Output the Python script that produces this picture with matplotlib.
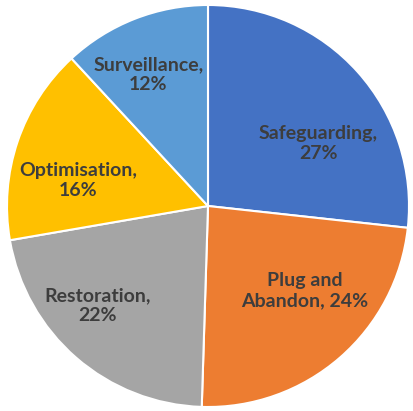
import numpy as np
import matplotlib
matplotlib.use('Agg')
import matplotlib.pyplot as plt

labels = ['Safeguarding,', 'Plug and', 'Restoration,', 'Optimisation,', 'Surveillance,']
second_lines = ['27%', 'Abandon, 24%', '22%', '16%', '12%']
values = [27, 24, 22, 16, 12]
colors = ['#4472C4', '#ED7D31', '#A5A5A5', '#FFC000', '#5B9BD5']

# label placement (radius fraction, angle nudge in degrees) per wedge
label_r = [0.63, 0.64, 0.74, 0.66, 0.72]
label_nudge = [-12.5, 8, -7, 7.5, 3]

fig = plt.figure(figsize=(4.14, 4.11), dpi=100)
ax = fig.add_axes([0, 0, 1, 1])

wedges, _ = ax.pie(values, colors=colors, startangle=90, counterclock=False,
                   radius=1, wedgeprops=dict(edgecolor='white', linewidth=1.5))

for w, l1, l2, r, nudge in zip(wedges, labels, second_lines, label_r, label_nudge):
    ang = np.deg2rad((w.theta1 + w.theta2) / 2 + nudge)
    ax.text(r * np.cos(ang), r * np.sin(ang), l1 + '\n' + l2,
            ha='center', va='center', fontsize=14, fontweight='bold',
            family='Lato', color='#3d3d3d', linespacing=1.2)

ax.set_xlim(-208 / 201, 206 / 201)
ax.set_ylim(-205 / 201, 206 / 201)
ax.set_aspect('equal')
ax.axis('off')

fig.savefig('out.png', dpi=100)
